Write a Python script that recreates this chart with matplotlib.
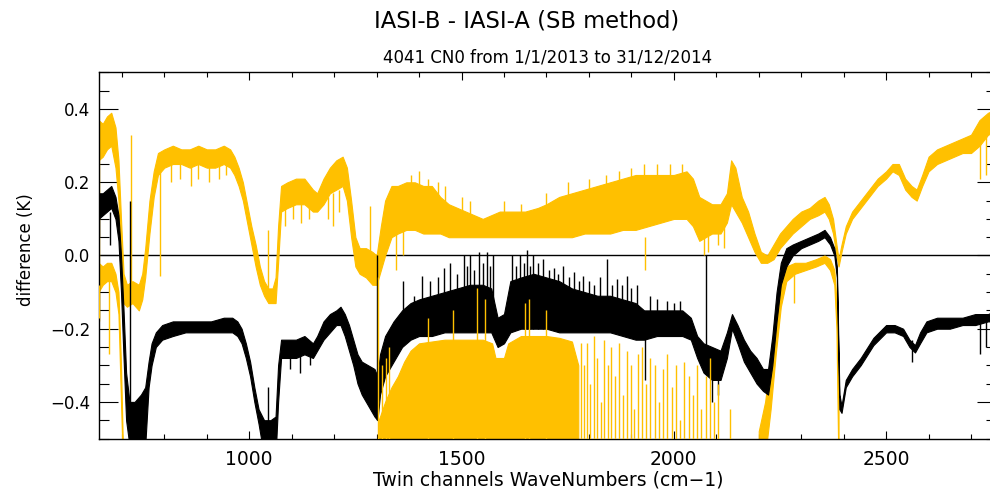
import numpy as np
import matplotlib
matplotlib.use("Agg")
import matplotlib.pyplot as plt
from matplotlib.ticker import MultipleLocator

# ---------------- data ----------------
# upper yellow curve: wavenumber, upper / lower envelope (K)
yu_wn = [645, 655, 665, 675, 685, 692, 698, 704, 712, 725, 740, 748, 755, 765, 775, 785,
         800, 820, 840, 860, 880, 900, 920, 940, 955, 965, 975, 985, 995, 1005, 1015, 1025,
         1035, 1045, 1055, 1062, 1068, 1075, 1090, 1110, 1130, 1150, 1160, 1175, 1190, 1205,
         1220, 1230, 1240, 1250, 1260, 1275, 1290, 1300, 1310, 1320, 1335, 1350, 1370, 1390,
         1410, 1430, 1450, 1470, 1490, 1510, 1530, 1550, 1570, 1590, 1620, 1650, 1680, 1700,
         1730, 1760, 1790, 1820, 1850, 1880, 1910, 1940, 1970, 2000, 2030, 2045, 2060, 2075,
         2090, 2110, 2125, 2135, 2145, 2160, 2175, 2190, 2205, 2220, 2235, 2250, 2265, 2280,
         2300, 2320, 2340, 2355, 2365, 2375, 2383, 2388, 2395, 2405, 2420, 2440, 2460, 2480,
         2500, 2515, 2530, 2545, 2560, 2572, 2585, 2600, 2620, 2640, 2660, 2680, 2700, 2720,
         2740, 2760]
yu_hi = [0.37, 0.36, 0.38, 0.39, 0.35, 0.26, 0.10, -0.05, -0.08, -0.07, -0.08, -0.05, 0.02, 0.15, 0.23, 0.28,
         0.29, 0.30, 0.29, 0.29, 0.30, 0.29, 0.29, 0.30, 0.29, 0.27, 0.24, 0.20, 0.14, 0.08, 0.03, -0.03,
         -0.07, -0.09, -0.09, -0.06, 0.08, 0.19, 0.20, 0.21, 0.21, 0.18, 0.17, 0.21, 0.24, 0.26,
         0.27, 0.24, 0.15, 0.05, 0.02, 0.02, 0.01, 0.00, 0.08, 0.15, 0.19, 0.19, 0.20, 0.20,
         0.19, 0.19, 0.16, 0.14, 0.13, 0.12, 0.11, 0.10, 0.11, 0.12, 0.12, 0.12, 0.13, 0.14,
         0.16, 0.17, 0.18, 0.19, 0.20, 0.21, 0.22, 0.22, 0.22, 0.22, 0.23, 0.21, 0.16, 0.15,
         0.14, 0.14, 0.17, 0.26, 0.24, 0.16, 0.12, 0.06, 0.01, 0.00, 0.03, 0.06, 0.08, 0.10,
         0.12, 0.13, 0.15, 0.16, 0.14, 0.10, 0.03, -0.01, 0.03, 0.08, 0.12, 0.15, 0.18, 0.21,
         0.23, 0.25, 0.25, 0.21, 0.19, 0.18, 0.22, 0.27, 0.29, 0.30, 0.31, 0.32, 0.33, 0.37,
         0.39, 0.40]
yu_lo = [0.26, 0.27, 0.29, 0.30, 0.24, 0.15, -0.02, -0.13, -0.14, -0.13, -0.15, -0.12, -0.06, 0.06, 0.16, 0.22,
         0.24, 0.25, 0.25, 0.24, 0.25, 0.24, 0.24, 0.25, 0.24, 0.22, 0.19, 0.15, 0.09, 0.03, -0.03, -0.08,
         -0.11, -0.13, -0.13, -0.13, -0.02, 0.12, 0.13, 0.14, 0.14, 0.12, 0.12, 0.14, 0.17, 0.18,
         0.19, 0.15, 0.05, -0.03, -0.05, -0.06, -0.08, -0.08, -0.04, 0.00, 0.05, 0.06, 0.07, 0.07,
         0.06, 0.06, 0.06, 0.05, 0.05, 0.05, 0.05, 0.05, 0.05, 0.05, 0.05, 0.05, 0.05, 0.05,
         0.05, 0.05, 0.06, 0.06, 0.06, 0.07, 0.07, 0.08, 0.09, 0.10, 0.10, 0.08, 0.04, 0.05,
         0.06, 0.06, 0.09, 0.14, 0.12, 0.09, 0.05, 0.01, -0.02, -0.02, -0.01, 0.02, 0.04, 0.06,
         0.08, 0.10, 0.11, 0.12, 0.10, 0.06, 0.00, -0.03, 0.01, 0.06, 0.10, 0.13, 0.16, 0.19,
         0.21, 0.23, 0.22, 0.18, 0.16, 0.15, 0.19, 0.23, 0.25, 0.26, 0.27, 0.28, 0.28, 0.30,
         0.33, 0.34]

# black curve (mean difference)
bk_wn = [645, 655, 665, 675, 685, 692, 698, 704, 710, 718, 730, 745, 755, 763, 770, 780,
         795, 820, 850, 880, 910, 940, 960, 972, 982, 992, 1002, 1012, 1022, 1035, 1050, 1062,
         1068, 1075, 1090, 1110, 1130, 1150, 1160, 1175, 1190, 1205, 1215, 1225, 1235, 1245,
         1255, 1265, 1280, 1295, 1302, 1308, 1320, 1340, 1360, 1380, 1400, 1430, 1460, 1490,
         1520, 1550, 1570, 1585, 1600, 1615, 1640, 1670, 1700, 1730, 1760, 1790, 1820, 1850,
         1880, 1910, 1930, 1960, 1990, 2020, 2040, 2055, 2070, 2090, 2110, 2125, 2137, 2150,
         2165, 2180, 2195, 2210, 2222, 2232, 2242, 2252, 2265, 2280, 2300, 2320, 2340, 2355,
         2368, 2378, 2384, 2390, 2395, 2405, 2420, 2440, 2470, 2500, 2520, 2540, 2555, 2568,
         2580, 2595, 2620, 2650, 2680, 2710, 2740, 2760]
bk_hi = [0.17, 0.17, 0.18, 0.19, 0.16, 0.11, 0.00, -0.15, -0.32, -0.40, -0.40, -0.38, -0.36, -0.29, -0.24, -0.21,
         -0.19, -0.18, -0.18, -0.18, -0.18, -0.17, -0.17, -0.18, -0.20, -0.24, -0.29, -0.36, -0.42, -0.45, -0.45, -0.44,
         -0.30, -0.23, -0.23, -0.23, -0.22, -0.24, -0.22, -0.18, -0.16, -0.15, -0.14, -0.16, -0.19, -0.23,
         -0.27, -0.29, -0.30, -0.31, -0.33, -0.27, -0.22, -0.18, -0.15, -0.13, -0.12, -0.11, -0.10, -0.09,
         -0.08, -0.08, -0.09, -0.17, -0.16, -0.07, -0.06, -0.05, -0.06, -0.07, -0.09, -0.10, -0.11, -0.11,
         -0.12, -0.13, -0.15, -0.15, -0.15, -0.15, -0.17, -0.22, -0.24, -0.25, -0.26, -0.21, -0.16, -0.19,
         -0.23, -0.26, -0.28, -0.31, -0.31, -0.22, -0.10, -0.02, 0.02, 0.03, 0.04, 0.05, 0.06, 0.07,
         0.05, 0.02, -0.03, -0.38, -0.41, -0.34, -0.31, -0.28, -0.225, -0.19, -0.19, -0.20, -0.23, -0.245,
         -0.21, -0.18, -0.17, -0.17, -0.17, -0.16, -0.16, -0.15]
bk_lo = [0.10, 0.11, 0.12, 0.13, 0.10, 0.04, -0.10, -0.28, -0.45, -0.52, -0.55, -0.55, -0.52, -0.36, -0.30, -0.25,
         -0.23, -0.22, -0.21, -0.21, -0.21, -0.21, -0.21, -0.22, -0.24, -0.28, -0.33, -0.40, -0.46, -0.55, -0.55, -0.55,
         -0.40, -0.28, -0.28, -0.28, -0.27, -0.28, -0.26, -0.23, -0.21, -0.19, -0.19, -0.22, -0.26, -0.30,
         -0.35, -0.38, -0.41, -0.44, -0.45, -0.38, -0.33, -0.29, -0.25, -0.23, -0.22, -0.22, -0.21, -0.21,
         -0.21, -0.21, -0.21, -0.25, -0.24, -0.21, -0.20, -0.20, -0.20, -0.21, -0.21, -0.21, -0.21, -0.21,
         -0.22, -0.23, -0.23, -0.22, -0.22, -0.22, -0.23, -0.28, -0.32, -0.34, -0.34, -0.28, -0.20, -0.24,
         -0.29, -0.32, -0.35, -0.37, -0.38, -0.30, -0.18, -0.08, -0.03, 0.00, 0.02, 0.03, 0.04, 0.05,
         0.03, 0.00, -0.06, -0.42, -0.43, -0.36, -0.33, -0.30, -0.245, -0.21, -0.21, -0.22, -0.25, -0.265,
         -0.24, -0.21, -0.20, -0.20, -0.19, -0.19, -0.18, -0.18]

# lower yellow curve, three visible parts
yl1_wn = [645, 655, 665, 675, 685, 692, 698, 703]
yl1_hi = [-0.02, -0.03, -0.02, -0.02, -0.05, -0.10, -0.30, -0.55]
yl1_lo = [-0.10, -0.08, -0.07, -0.07, -0.10, -0.16, -0.40, -0.60]

yl2_wn = [1305, 1320, 1335, 1350, 1365, 1380, 1400, 1430, 1460, 1490, 1520, 1550, 1572, 1580,
          1600, 1610, 1640, 1670, 1700, 1730, 1760, 1775]
yl2_top = [-0.45, -0.40, -0.36, -0.33, -0.29, -0.26, -0.24, -0.235, -0.23, -0.23, -0.23, -0.23, -0.24, -0.28,
           -0.28, -0.24, -0.22, -0.22, -0.22, -0.225, -0.235, -0.30]

yl3_wn = [2200, 2215, 2228, 2240, 2252, 2265, 2285, 2310, 2335, 2355, 2368, 2378, 2383, 2388]
yl3_hi = [-0.48, -0.40, -0.28, -0.15, -0.06, -0.03, -0.02, -0.02, -0.01, 0.00, -0.01, -0.04, -0.12, -0.35]
yl3_lo = [-0.60, -0.55, -0.42, -0.27, -0.14, -0.07, -0.05, -0.04, -0.03, -0.02, -0.04, -0.08, -0.20, -0.60]

# isolated channels (spikes): wavenumber, start value, end value
yu_spk_wn = [646, 721, 790, 815, 838, 862, 880, 905, 928, 945, 1045, 1085, 1102, 1122, 1140,
             1185, 1198, 1212, 1285, 1932, 2070, 2080, 2722, 2735,
             1345, 1362, 1380, 1400, 1420, 1445, 1460, 1500, 1520, 1600, 1640, 1700, 1750,
             1800, 1840, 1870, 1900, 1930, 1960, 1990, 2020, 2105, 2118]
yu_spk_a = [0.30, -0.10, 0.24, 0.25, 0.25, 0.25, 0.25, 0.25, 0.25, 0.25, -0.12, 0.14, 0.14, 0.14, 0.14,
            0.16, 0.17, 0.18, 0.00, 0.05, 0.08, 0.08, 0.32, 0.33,
            0.08, 0.08, 0.10, 0.10, 0.10, 0.10, 0.10, 0.08, 0.08, 0.08, 0.08, 0.08, 0.10,
            0.10, 0.10, 0.10, 0.12, 0.12, 0.12, 0.12, 0.14, 0.10, 0.10]
yu_spk_b = [-0.18, 0.33, -0.055, 0.20, 0.21, 0.19, 0.21, 0.20, 0.21, 0.22, 0.07, 0.08, 0.10, 0.09, 0.10,
            0.10, 0.08, 0.12, 0.135, -0.04, 0.00, 0.01, 0.21, 0.22,
            -0.04, 0.00, 0.22, 0.23, 0.21, 0.20, 0.19, 0.16, 0.15, 0.15, 0.14, 0.17, 0.20,
            0.21, 0.22, 0.23, 0.24, 0.25, 0.25, 0.25, 0.25, 0.03, 0.02]

yl_spk_wn = [647, 669, 1303, 1312, 1322, 1330, 1420, 1480, 1536, 1555, 1650, 1660, 1700,
             1782, 1788, 1795, 1803, 1811, 1820, 1828, 1836, 1845, 1853, 1862, 1870, 1880, 1889,
             1898, 1906, 1915, 1925, 1935, 1945, 1955, 1965, 1975, 1985, 1995, 2005, 2015,
             2025, 2035, 2045, 2055, 2065, 2075, 2085, 2095, 2105, 2133, 2282]
yl_spk_a = [-0.08, -0.06, -0.60, -0.60, -0.60, -0.60, -0.60, -0.60, -0.60, -0.60, -0.60, -0.60, -0.60,
            -0.60, -0.60, -0.60, -0.60, -0.60, -0.60, -0.60, -0.60, -0.60, -0.60, -0.60, -0.60, -0.60, -0.60,
            -0.60, -0.60, -0.60, -0.60, -0.60, -0.60, -0.60, -0.60, -0.60, -0.60, -0.60, -0.60, -0.60,
            -0.60, -0.60, -0.60, -0.60, -0.60, -0.60, -0.60, -0.60, -0.60, -0.60, -0.03]
yl_spk_b = [-0.17, -0.27, -0.06, -0.30, -0.28, -0.25, -0.17, -0.15, -0.09, -0.12, -0.13, -0.12, -0.15,
            -0.24, -0.30, -0.24, -0.35, -0.22, -0.28, -0.40, -0.23, -0.30, -0.25, -0.33, -0.24, -0.38, -0.26,
            -0.30, -0.42, -0.27, -0.25, -0.35, -0.28, -0.30, -0.40, -0.31, -0.27, -0.36, -0.30, -0.45,
            -0.29, -0.33, -0.38, -0.30, -0.42, -0.33, -0.28, -0.40, -0.35, -0.42, -0.13]

bk_spk_wn = [646, 672, 720, 1045, 1302, 1363, 1387, 1407, 1426, 1445, 1458, 1473, 1490, 1505, 1512,
             1520, 1530, 1540, 1550, 1560, 1567, 1575, 1618, 1628, 1638, 1646, 1654, 1662, 1669, 1680,
             1693, 1705, 1717, 1728, 1740, 1752, 1764, 1776, 1787, 1800, 1811, 1826, 1842, 1855, 1866,
             1878, 1889, 1900, 1913, 1932, 1944, 1960, 1983, 2000, 2015, 2075, 2090, 2105,
             2720, 2735, 1095, 1120, 1142, 2560]
bk_spk_a = [0.15, 0.12, -0.45, -0.50, -0.45, -0.20, -0.20, -0.20, -0.20, -0.20, -0.20, -0.20, -0.20, -0.20, -0.20,
            -0.20, -0.20, -0.20, -0.20, -0.20, -0.20, -0.20, -0.20, -0.20, -0.20, -0.20, -0.20, -0.20, -0.20, -0.20,
            -0.20, -0.20, -0.20, -0.20, -0.20, -0.20, -0.20, -0.20, -0.20, -0.20, -0.20, -0.20, -0.20, -0.20, -0.20,
            -0.20, -0.20, -0.20, -0.20, -0.20, -0.20, -0.20, -0.20, -0.20, -0.20, -0.30, -0.30, -0.30,
            -0.18, -0.18, -0.25, -0.25, -0.25, -0.23]
bk_spk_b = [0.05, 0.03, 0.15, -0.36, 0.00, -0.07, -0.11, -0.055, -0.07, -0.06, -0.035, -0.02, -0.05, 0.00, -0.03,
            0.00, -0.04, 0.01, -0.02, 0.01, -0.03, 0.00, 0.00, -0.03, 0.00, -0.02, 0.015, -0.03, 0.00, -0.02,
            -0.01, -0.04, -0.035, -0.05, -0.03, -0.06, -0.045, -0.07, -0.055, -0.07, -0.08, -0.06, -0.01, -0.08, -0.065,
            -0.08, -0.055, -0.09, -0.08, -0.34, -0.11, -0.12, -0.125, -0.13, -0.125, 0.00, -0.40, -0.38,
            -0.27, -0.25, -0.31, -0.32, -0.30, -0.29]

title = "IASI-B - IASI-A (SB method)"
subtitle = "4041 CN0 from 1/1/2013 to 31/12/2014"
xlabel = "Twin channels WaveNumbers (cm\u22121)"
ylabel = "difference (K)"

# ---------------- drawing ----------------
YEL = "#FFC000"
plt.rcParams["font.family"] = ["DejaVu Sans"]

fig = plt.figure(figsize=(9.9, 4.9), dpi=100)
ax = fig.add_axes([98.5 / 990, 51.5 / 490, 898 / 990, 366 / 490])
ax.set_xlim(645, 2760)
ax.set_ylim(-0.5, 0.5)

ax.axhline(0.0, color="black", lw=1.0, zorder=1)

# lower yellow (under black)
ax.fill_between(yl1_wn, yl1_lo, yl1_hi, color=YEL, lw=0.8, zorder=2)
ax.fill_between(yl2_wn, -0.6, yl2_top, color=YEL, lw=0.8, zorder=2)
ax.fill_between(yl3_wn, yl3_lo, yl3_hi, color=YEL, lw=0.8, zorder=2)

# upper yellow
ax.fill_between(yu_wn, yu_lo, yu_hi, color=YEL, lw=0.8, zorder=2)
ax.vlines(yu_spk_wn, yu_spk_a, yu_spk_b, color=YEL, lw=1.0, zorder=2)

# black
ax.fill_between(bk_wn, bk_lo, bk_hi, color="black", lw=0.8, zorder=3)
ax.vlines(bk_spk_wn, bk_spk_a, bk_spk_b, color="black", lw=1.0, zorder=3)

# yellow isolated channels on top
ax.vlines(yl_spk_wn, yl_spk_a, yl_spk_b, color=YEL, lw=1.0, zorder=4)

# axes styling
for s in ax.spines.values():
    s.set_linewidth(1.0)
ax.xaxis.set_major_locator(MultipleLocator(500))
ax.xaxis.set_minor_locator(MultipleLocator(100))
ax.yaxis.set_major_locator(MultipleLocator(0.2))
ax.yaxis.set_minor_locator(MultipleLocator(0.05))
ax.tick_params(axis="both", which="both", direction="in", top=True, right=True, width=0.8)
ax.tick_params(axis="x", which="major", length=6, pad=8, labelsize=13.5)
ax.tick_params(axis="x", which="minor", length=3.6)
ax.tick_params(axis="y", which="major", length=13.5, pad=6, labelsize=12)
ax.tick_params(axis="y", which="minor", length=7)

fig.text(527 / 990, 1 - 21 / 490, title, ha="center", va="center", fontsize=16.3)
fig.text(548 / 990, 1 - 57 / 490, subtitle, ha="center", va="center", fontsize=12)
fig.text(548 / 990, 1 - 480 / 490, xlabel, ha="center", va="center", fontsize=13.5)
fig.text(26 / 990, 1 - 250 / 490, ylabel, ha="center", va="center", rotation=90, fontsize=12)

fig.savefig("out.png", dpi=100)
